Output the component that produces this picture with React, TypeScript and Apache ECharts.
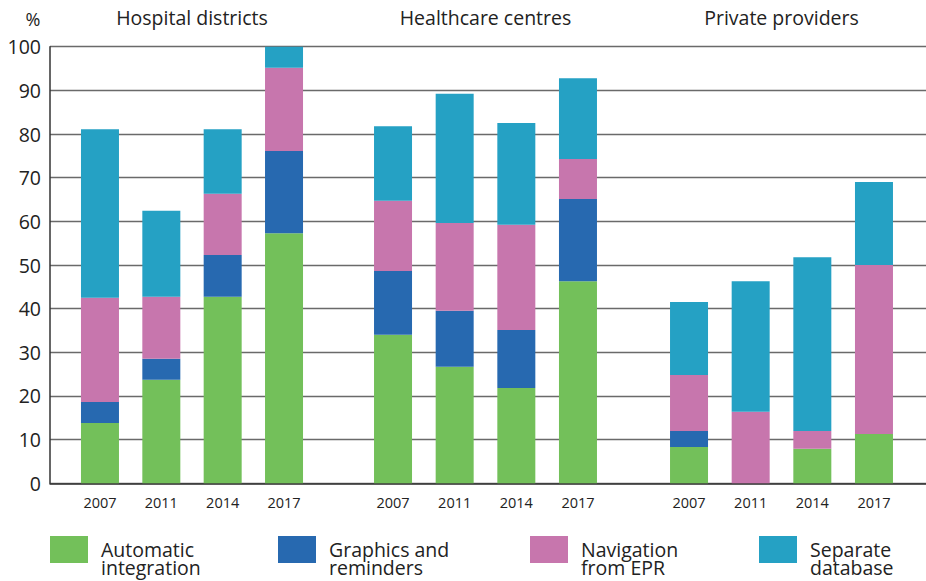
import React, { useEffect, useRef } from "react";
import * as echarts from "echarts";

const years = ["2007", "2011", "2014", "2017"];
const groups = ["Hospital districts", "Healthcare centres", "Private providers"];
const seriesNames = [
  "Automatic integration",
  "Graphics and reminders",
  "Navigation from EPR",
  "Separate database",
];
const legendLines: Record<string, string[]> = {
  "Automatic integration": ["Automatic", "integration"],
  "Graphics and reminders": ["Graphics and", "reminders"],
  "Navigation from EPR": ["Navigation", "from EPR"],
  "Separate database": ["Separate", "database"],
};
const colors = ["#73C05A", "#2769B0", "#C776AD", "#25A1C4"];

// values per group: [Hospital districts, Healthcare centres, Private providers]
const automatic = [
  [13.8, 23.7, 42.7, 57.3],
  [34.0, 26.7, 21.8, 46.3],
  [8.3, 0, 7.9, 11.3],
];
const graphicsReminders = [
  [4.8, 4.8, 9.6, 18.8],
  [14.6, 12.8, 13.3, 18.8],
  [3.7, 0, 0, 0],
];
const navigation = [
  [23.9, 14.2, 14.0, 19.1],
  [16.1, 20.1, 24.1, 9.2],
  [12.8, 16.4, 4.1, 38.7],
];
const separate = [
  [38.6, 19.7, 14.8, 4.8],
  [17.1, 29.6, 23.3, 18.5],
  [16.7, 29.9, 39.8, 19.0],
];
const yTicks = [0, 10, 20, 30, 40, 50, 60, 70, 80, 90, 100];

const FONT = "'Open Sans', 'Noto Sans', sans-serif";

export default function App() {
  const ref = useRef<HTMLDivElement>(null);
  useEffect(() => {
    if (!ref.current) return;
    const chart = echarts.init(ref.current, null, { renderer: "svg" });
    const segData = [automatic, graphicsReminders, navigation, separate];

    const top = 46.7;
    const bottom = 97.7;
    // bar grids: each spans its four category slots
    const barGrids = [
      { left: 69.3, right: 611.3 },
      { left: 362.2, right: 317.2 },
      { left: 658.2, right: 21.2 },
    ];
    const grid: any[] = [{ left: 50, right: 0, top, bottom }];
    barGrids.forEach((g) => grid.push({ left: g.left, right: g.right, top, bottom }));

    const xAxis: any[] = [
      {
        gridIndex: 0,
        type: "category",
        data: [""],
        axisLine: { show: true, lineStyle: { color: "#333", width: 1.5 } },
        axisTick: { show: false },
        axisLabel: { show: false },
      },
    ];
    const yAxis: any[] = [
      {
        gridIndex: 0,
        type: "value",
        min: 0,
        max: 100,
        interval: 10,
        axisLine: { show: true, lineStyle: { color: "#333", width: 1.5 } },
        axisTick: { show: false },
        splitLine: { show: true, lineStyle: { color: "#6a6a6a", width: 1.3 } },
        axisLabel: {
          color: "#222",
          fontFamily: FONT,
          fontSize: 19.5,
          margin: 9,
          formatter: (v: number) => (yTicks.includes(v) ? String(v) : ""),
        },
      },
    ];
    const series: any[] = [];
    groups.forEach((_, gi) => {
      xAxis.push({
        gridIndex: gi + 1,
        type: "category",
        data: years,
        axisLine: { show: false },
        axisTick: { show: false },
        axisLabel: { color: "#222", fontFamily: FONT, fontSize: 14.5, margin: 12 },
      });
      yAxis.push({
        gridIndex: gi + 1,
        type: "value",
        min: 0,
        max: 100,
        show: false,
        splitLine: { show: false },
      });
      seriesNames.forEach((name, si) => {
        series.push({
          type: "bar",
          name,
          stack: "g" + gi,
          xAxisIndex: gi + 1,
          yAxisIndex: gi + 1,
          barWidth: 38,
          itemStyle: { color: colors[si] },
          data: segData[si][gi],
        });
      });
    });

    const legendLefts = [50, 278, 530, 759];
    const tokenBase = {
      color: "#222",
      fontFamily: FONT,
      fontSize: 19.5,
      lineHeight: 18,
      padding: [17, 0, 0, 8],
    };
    const legend = seriesNames.map((name, i) => ({
      data: [name],
      left: legendLefts[i],
      top: 522,
      padding: 0,
      icon: "rect",
      itemWidth: 38,
      itemHeight: 27,
      selectedMode: false,
      formatter: (n: string) => {
        const lines = legendLines[n] || [n, ""];
        return `{a|${lines[0]}}\n{a|${lines[1]}}`;
      },
      textStyle: {
        color: "#222",
        fontFamily: FONT,
        fontSize: 19.5,
        rich: { a: tokenBase },
      },
    }));

    const groupCenters = [192, 485.5, 781.5];
    const graphic: any[] = groups.map((g, i) => ({
      type: "text",
      x: groupCenters[i],
      y: 17,
      style: {
        text: g,
        fill: "#222",
        font: `19.5px ${FONT}`,
        textAlign: "center",
        textVerticalAlign: "middle",
      },
    }));
    graphic.push({
      type: "text",
      x: 33,
      y: 18.5,
      style: {
        text: "%",
        fill: "#222",
        font: `18px ${FONT}`,
        textAlign: "center",
        textVerticalAlign: "middle",
      },
    });

    chart.setOption({
      animation: false,
      backgroundColor: "#fff",
      grid,
      xAxis,
      yAxis,
      series,
      legend,
      graphic,
    });
    return () => chart.dispose();
  }, []);
  return (
    <div
      ref={ref}
      style={{ position: "fixed", left: 0, top: 0, width: 926, height: 581 }}
    />
  );
}
